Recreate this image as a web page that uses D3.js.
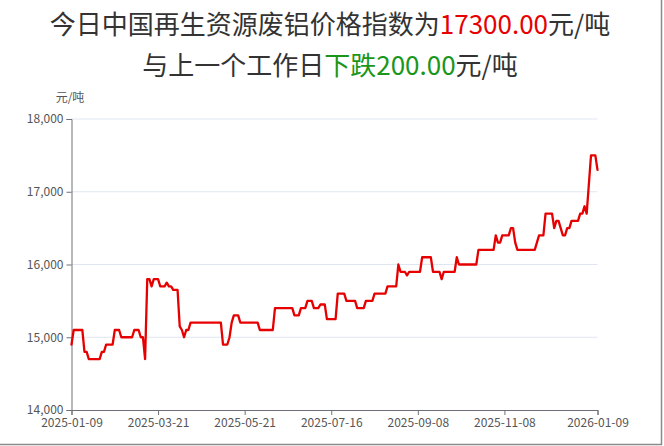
<!DOCTYPE html>
<html>
<head>
<meta charset="utf-8">
<script src="https://cdn.jsdelivr.net/npm/d3@7"></script>
<style>
  html, body { margin: 0; padding: 0; background: #fff; }
  svg { display: block; }
</style>
</head>
<body>
<svg id="chart" width="664" height="446"></svg>
<script>
// ---- data ----
const titleLine1 = ["今日中国再生资源废铝价格指数为", "17300.00", "元/吨"];
const titleLine2 = ["与上一个工作日", "下跌200.00", "元/吨"];
const unitLabel = "元/吨";
const tickLabels = ["2025-01-09", "2025-03-21", "2025-05-21", "2025-07-16", "2025-09-08", "2025-11-08", "2026-01-09"];
const tickIndex = [0, 40, 80, 120, 160, 200, 243];
const yTicks = [14000, 15000, 16000, 17000, 18000];
const prices = [
  14900, 15100, 15100, 15100, 15100, 15100, 14800, 14800, 14700, 14700,
  14700, 14700, 14700, 14700, 14800, 14800, 14900, 14900, 14900, 14900,
  15100, 15100, 15100, 15000, 15000, 15000, 15000, 15000, 15000, 15100,
  15100, 15100, 15000, 15000, 14700, 15800, 15800, 15700, 15800, 15800,
  15800, 15700, 15700, 15700, 15750, 15700, 15700, 15650, 15650, 15650,
  15150, 15100, 15000, 15100, 15100, 15200, 15200, 15200, 15200, 15200,
  15200, 15200, 15200, 15200, 15200, 15200, 15200, 15200, 15200, 15200,
  14900, 14900, 14900, 15000, 15200, 15300, 15300, 15300, 15200, 15200,
  15200, 15200, 15200, 15200, 15200, 15200, 15200, 15100, 15100, 15100,
  15100, 15100, 15100, 15100, 15400, 15400, 15400, 15400, 15400, 15400,
  15400, 15400, 15400, 15300, 15300, 15300, 15400, 15400, 15400, 15500,
  15500, 15500, 15400, 15400, 15400, 15450, 15450, 15450, 15250, 15250,
  15250, 15250, 15250, 15600, 15600, 15600, 15600, 15500, 15500, 15500,
  15500, 15500, 15400, 15400, 15400, 15400, 15500, 15500, 15500, 15500,
  15600, 15600, 15600, 15600, 15600, 15600, 15700, 15700, 15700, 15700,
  15700, 16000, 15900, 15900, 15900, 15850, 15900, 15900, 15900, 15900,
  15900, 15900, 16100, 16100, 16100, 16100, 16100, 15900, 15900, 15900,
  15900, 15800, 15900, 15900, 15900, 15900, 15900, 15900, 16100, 16000,
  16000, 16000, 16000, 16000, 16000, 16000, 16000, 16000, 16200, 16200,
  16200, 16200, 16200, 16200, 16200, 16200, 16400, 16300, 16300, 16400,
  16400, 16400, 16400, 16500, 16500, 16300, 16200, 16200, 16200, 16200,
  16200, 16200, 16200, 16200, 16200, 16300, 16400, 16400, 16400, 16700,
  16700, 16700, 16700, 16500, 16600, 16600, 16500, 16400, 16400, 16500,
  16500, 16600, 16600, 16600, 16600, 16700, 16700, 16800, 16700, 17100,
  17500, 17500, 17500, 17300
];

// ---- layout ----
const svg = d3.select("#chart");
const W = 664, H = 446;
const plot = { left: 71.5, right: 597.5, top: 119, bottom: 410 };
const FONT = "'Noto Sans CJK SC', 'Noto Sans', sans-serif";

const x = d3.scaleLinear().domain([0, prices.length - 1]).range([plot.left, plot.right]);
const y = d3.scaleLinear().domain([14000, 18000]).range([plot.bottom, plot.top]);

// frame (bottom and right edges, as in the screenshot)
svg.append("line").attr("x1", 0).attr("x2", 662).attr("y1", 444.5).attr("y2", 444.5)
  .attr("stroke", "#8a8a8a").attr("stroke-width", 1.5);
svg.append("line").attr("x1", 661.5).attr("x2", 661.5).attr("y1", 0).attr("y2", 445)
  .attr("stroke", "#8a8a8a").attr("stroke-width", 1.5);

// title
const t1 = svg.append("text").attr("x", W / 2 - 2).attr("y", 34).attr("text-anchor", "middle")
  .attr("font-family", FONT).attr("font-size", 26).attr("fill", "#333");
t1.append("tspan").text(titleLine1[0]);
t1.append("tspan").attr("fill", "#e60000").text(titleLine1[1]);
t1.append("tspan").text(titleLine1[2]);

const t2 = svg.append("text").attr("x", W / 2 - 2).attr("y", 75).attr("text-anchor", "middle")
  .attr("font-family", FONT).attr("font-size", 26).attr("fill", "#333");
t2.append("tspan").text(titleLine2[0]);
t2.append("tspan").attr("fill", "#1a961a").text(titleLine2[1]);
t2.append("tspan").text(titleLine2[2]);

// grid
svg.append("g").selectAll("line").data(yTicks.filter(d => d !== 14000)).join("line")
  .attr("x1", plot.left).attr("x2", plot.right)
  .attr("y1", d => y(d)).attr("y2", d => y(d))
  .attr("stroke", "#E0E6F1").attr("stroke-width", 1);

// y axis
const yAxis = svg.append("g").attr("transform", `translate(${plot.left},0)`)
  .call(d3.axisLeft(y).tickValues(yTicks).tickFormat(d3.format(",")).tickSize(5).tickPadding(3));
yAxis.select(".domain").attr("stroke", "#6E7079");
yAxis.selectAll(".tick line").attr("stroke", "#6E7079");
yAxis.selectAll(".tick text").attr("font-family", FONT).attr("font-size", 12).attr("fill", "#555");

// x axis
const xAxis = svg.append("g").attr("transform", `translate(0,${plot.bottom})`)
  .call(d3.axisBottom(x).tickValues(tickIndex).tickFormat((d, i) => tickLabels[i]).tickSize(5).tickPadding(3));
xAxis.select(".domain").attr("stroke", "#6E7079");
xAxis.selectAll(".tick line").attr("stroke", "#6E7079");
xAxis.selectAll(".tick text").attr("font-family", FONT).attr("font-size", 12).attr("fill", "#555");

// unit label
svg.append("text").attr("x", 70).attr("y", 102).attr("text-anchor", "middle")
  .attr("font-family", FONT).attr("font-size", 12).attr("fill", "#555").text(unitLabel);

// line
svg.append("path").datum(prices)
  .attr("fill", "none").attr("stroke", "#e60000").attr("stroke-width", 2.3)
  .attr("stroke-linejoin", "round").attr("stroke-linecap", "round")
  .attr("d", d3.line().x((d, i) => x(i)).y(d => y(d)));
</script>
</body>
</html>
